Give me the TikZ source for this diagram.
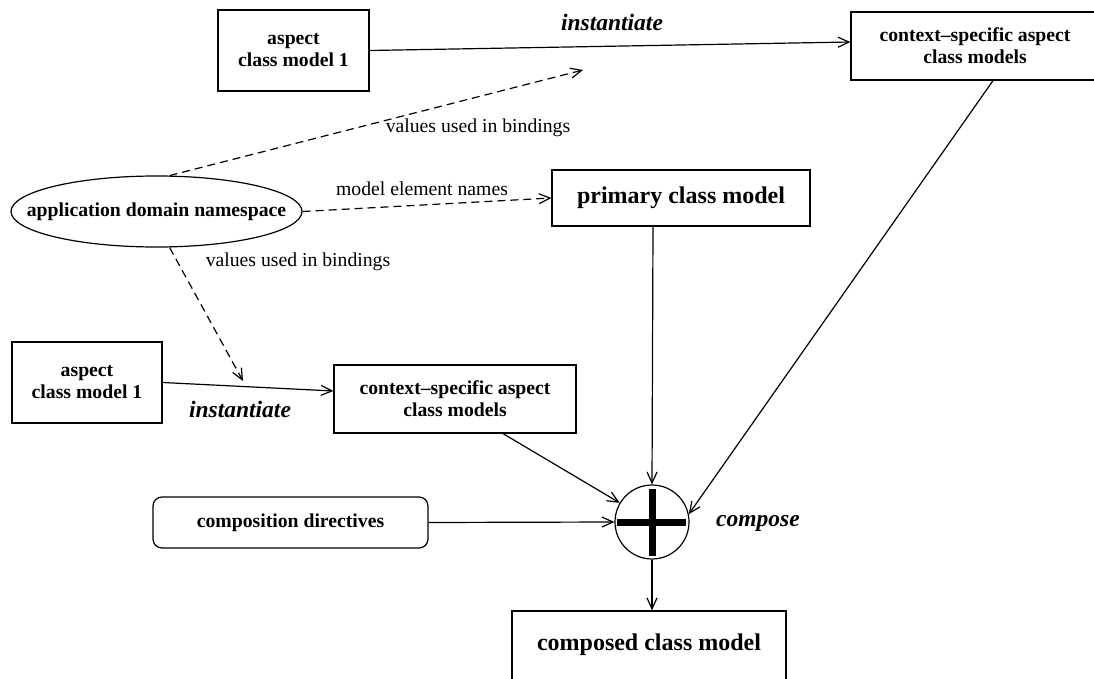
\documentclass[tikz,border=0pt]{standalone}
\usepackage{fontspec}
\setmainfont{Liberation Serif}
\usepackage{tikz}
\usetikzlibrary{positioning}
\usetikzlibrary{shapes.geometric}
\usetikzlibrary{arrows.meta}

\begin{document}
\begin{tikzpicture}[x=1pt,y=-1pt,line width=1.2pt,
    box/.style={draw,rectangle,align=center,inner sep=0pt,font=\fontsize{19.7}{22}\selectfont\bfseries},
    bigbox/.style={draw,rectangle,inner sep=0pt,font=\fontsize{24}{28}\selectfont\bfseries},
    oval/.style={draw,ellipse,inner xsep=-27pt,inner ysep=0pt,font=\fontsize{19.7}{22}\selectfont\bfseries},
    verb/.style={font=\fontsize{23.5}{28}\selectfont\bfseries\itshape},
    note/.style={font=\fontsize{19.7}{22}\selectfont},
    flow/.style={-{Straight Barb[length=11pt,width=10pt]}},
    uses/.style={dash pattern=on 8pt off 5pt,-{Straight Barb[length=11pt,width=10pt]}}]
    \useasboundingbox (0,0) rectangle (1094,679);
        % models
        \node[box,minimum width=151,minimum height=81] (aspA) at (293.5,50.5) {aspect\\class model 1};
        \node[box,minimum width=248,minimum height=68] (csA) at (975,46) {context--specific aspect\\class models};
        \node[oval,minimum width=291,minimum height=71] (ns) at (156.5,211.5) {application domain namespace};
        \node[bigbox,minimum width=258,minimum height=56] (primary) at (681,198) {primary class model};
        \node[box,minimum width=150,minimum height=81] (aspB) at (87,382.5) {aspect\\class model 1};
        \node[box,minimum width=242,minimum height=68] (csB) at (455,399) {context--specific aspect\\class models};
        \node[box,rounded corners=9pt,minimum width=275,minimum height=51] (dirs) at (290.5,522.5) {composition directives};
        \node[draw,circle,minimum size=74,inner sep=0pt] (plus) at (652,522) {};
        \node[bigbox,minimum width=274,minimum height=74] (composed) at (649,648) {\raisebox{12pt}{composed class model}};
        \draw[line width=7pt] ([yshift=-5pt]plus.north) -- ([yshift=4pt]plus.south);
        \draw[line width=7pt] ([xshift=3pt]plus.west) -- ([xshift=-4pt]plus.east);
        % labels
        \node[verb] (instA) at (612,22) {instantiate};
        \node[verb] (instB) at (240,409) {instantiate};
        \node[verb] (comp) at (758,523) {compose};
        \node[note] (bindA) at (478,128) {values used in bindings};
        \node[note] (names) at (422,189) {model element names};
        \node[note] (bindB) at (298,262) {values used in bindings};
        \coordinate (tipA) at (583,70);
        \coordinate (tipB) at (243,381);
        % connectors
        \draw[flow] (aspA.east) -- ([yshift=4pt]csA.west);
        \draw[flow] (aspB.east) -- ([yshift=8pt]csB.west);
        \draw[uses] (ns.70) -- (tipA);
        \draw[uses] (ns.east) -- (primary.west);
        \draw[uses] (ns.-70) -- (tipB);
        \draw[flow] ([xshift=48pt]csB.south) -- (plus);
        \draw[flow] ([xshift=18pt]csA.south) -- (plus.12);
        \draw[flow] ([xshift=-28pt]primary.south) -- (plus.north);
        \draw[flow] (dirs.east) -- (plus.west);
        \draw[flow] (plus.south) -- (plus.south |- composed.north);
\end{tikzpicture}
\end{document}
